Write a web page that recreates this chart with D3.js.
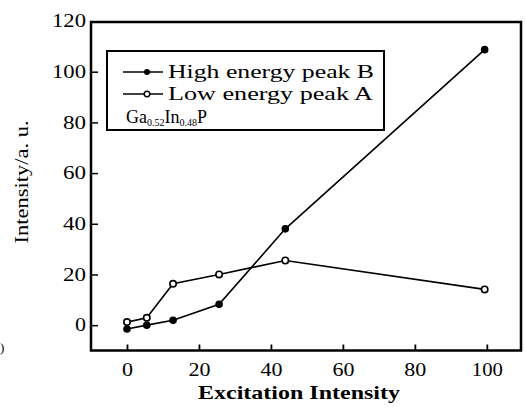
<!DOCTYPE html>
<html><head><meta charset="utf-8">
<script src="https://cdn.jsdelivr.net/npm/d3@7"></script>
<style>body{margin:0;background:#fff}svg{display:block}text{font-family:"Liberation Serif","Times New Roman",Tinos,Times,"DejaVu Serif","Noto Serif",serif !important;fill:#000}</style>
</head><body>
<svg id="c" width="526" height="409"></svg>
<script>
const excitation = [0, 5.5, 12.8, 25.6, 44, 99.4];
const highPeakB = [-1.5, 0, 1.9, 8.2, 38, 108.7];
const lowPeakA = [1.2, 2.9, 16.3, 20, 25.5, 14.1];
const xTicks = [0, 20, 40, 60, 80, 100];
const yTicks = [0, 20, 40, 60, 80, 100, 120];

const svg = d3.select("#c");
const L = 91, R = 521, T = 22, B = 350.5;
const x = d3.scaleLinear().domain([-10, 109.5]).range([L, R]);
const y = d3.scaleLinear().domain([-10, 120]).range([B, 21]);

// frame
svg.append("rect").attr("x", L).attr("y", T).attr("width", R - L).attr("height", B - T)
  .attr("fill", "none").attr("stroke", "#000").attr("stroke-width", 2.5);

// axes (ticks inward)
const xAxis = d3.axisBottom(x).tickValues(xTicks).tickSize(-6).tickPadding(13).tickFormat(d3.format("d"));
const gx = svg.append("g").attr("transform", `translate(0,${B})`).call(xAxis);
gx.select(".domain").remove();
gx.selectAll("line").attr("stroke-width", 1.8);
gx.selectAll("text").attr("font-size", 18).attr("dy", "0.71em")
  .attr("textLength", d => d === 100 ? 31 : d === 0 ? 11 : 22).attr("lengthAdjust", "spacingAndGlyphs");

const yAxis = d3.axisLeft(y).tickValues(yTicks).tickSize(-7).tickPadding(5).tickFormat(d3.format("d"));
const gy = svg.append("g").attr("transform", `translate(${L},0)`).call(yAxis);
gy.select(".domain").remove();
gy.selectAll("line").attr("stroke-width", 1.5).filter(d => d === 120).remove();
gy.selectAll("text").attr("font-size", 18)
  .attr("textLength", d => d >= 100 ? 34 : d === 0 ? 11 : 23).attr("lengthAdjust", "spacingAndGlyphs");

const dataB = excitation.map((e, i) => [e, highPeakB[i]]);
const dataA = excitation.map((e, i) => [e, lowPeakA[i]]);
const line = d3.line().x(d => x(d[0])).y(d => y(d[1]));

svg.append("path").attr("d", line(dataA)).attr("fill", "none").attr("stroke", "#000").attr("stroke-width", 1.6);
svg.append("path").attr("d", line(dataB)).attr("fill", "none").attr("stroke", "#000").attr("stroke-width", 1.6);

svg.selectAll(".pa").data(dataA).join("circle")
  .attr("cx", d => x(d[0])).attr("cy", d => y(d[1])).attr("r", 3.2)
  .attr("fill", "#fff").attr("stroke", "#000").attr("stroke-width", 1.6);
svg.selectAll(".pb").data(dataB).join("circle")
  .attr("cx", d => x(d[0])).attr("cy", d => y(d[1])).attr("r", 3.8)
  .attr("fill", "#000");

// legend
const lg = svg.append("g");
lg.append("rect").attr("x", 107).attr("y", 51).attr("width", 277).attr("height", 79)
  .attr("fill", "#fff").attr("stroke", "#000").attr("stroke-width", 2);
lg.append("line").attr("x1", 123).attr("x2", 163).attr("y1", 72).attr("y2", 72).attr("stroke", "#000").attr("stroke-width", 1.6);
lg.append("circle").attr("cx", 147).attr("cy", 72).attr("r", 3).attr("fill", "#000");
lg.append("line").attr("x1", 123).attr("x2", 163).attr("y1", 94).attr("y2", 94).attr("stroke", "#000").attr("stroke-width", 1.6);
lg.append("circle").attr("cx", 147).attr("cy", 94).attr("r", 2.8).attr("fill", "#fff").attr("stroke", "#000").attr("stroke-width", 1.4);
lg.append("text").attr("x", 168).attr("y", 78).attr("font-size", 19)
  .attr("textLength", 206).attr("lengthAdjust", "spacingAndGlyphs").text("High energy peak B");
lg.append("text").attr("x", 168).attr("y", 100).attr("font-size", 19)
  .attr("textLength", 205).attr("lengthAdjust", "spacingAndGlyphs").text("Low energy peak A");
const t3 = lg.append("text").attr("x", 126).attr("y", 123).attr("font-size", 18);
t3.append("tspan").text("Ga");
t3.append("tspan").attr("font-size", 10).attr("dy", 3).text("0.52");
t3.append("tspan").attr("dy", -3).text("In");
t3.append("tspan").attr("font-size", 10).attr("dy", 3).text("0.48");
t3.append("tspan").attr("dy", -3).text("P");

// axis titles
svg.append("text").attr("x", 299).attr("y", 399).attr("text-anchor", "middle")
  .attr("font-size", 19).attr("font-weight", "bold").attr("textLength", 202).attr("lengthAdjust", "spacingAndGlyphs")
  .text("Excitation Intensity");
svg.append("text").attr("transform", "translate(28,182) rotate(-90)").attr("text-anchor", "middle")
  .attr("font-size", 18).attr("textLength", 123).attr("lengthAdjust", "spacingAndGlyphs")
  .text("Intensity/a. u.");
svg.append("text").attr("x", 0).attr("y", 352).attr("font-size", 13).text(")");
</script>
</body></html>
